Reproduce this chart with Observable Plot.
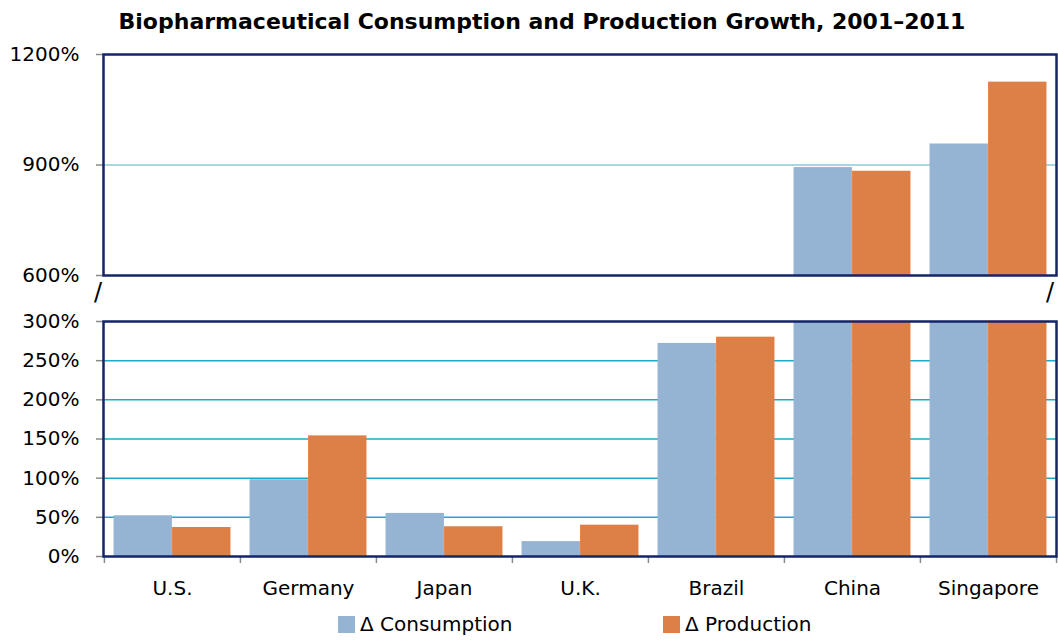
<!DOCTYPE html>
<html>
<head>
<meta charset="utf-8">
<script src="https://cdn.jsdelivr.net/npm/d3@7"></script>
<script src="https://cdn.jsdelivr.net/npm/@observablehq/plot@0.6"></script>
<style>
  html, body { margin: 0; padding: 0; background: #fff; }
  body { width: 1058px; height: 640px; position: relative; overflow: hidden; font-family: "DejaVu Sans", sans-serif; }
  #title { position: absolute; left: 0; top: 9px; width: 1058px; padding-left: 26px; box-sizing: border-box; text-align: center; font-weight: bold; font-size: 22px; color: #000; white-space: nowrap; }
  #top { position: absolute; left: 0; top: 40px; }
  #bottom { position: absolute; left: 0; top: 276px; }
  .slash { position: absolute; font-size: 24px; color: #000; font-family: "DejaVu Sans", sans-serif; }
  #legend { position: absolute; top: 612px; left: 0; width: 1058px; height: 28px; font-size: 20px; color: #000; }
  .item { position: absolute; display: flex; align-items: center; }
  .sw { width: 17px; height: 17px; margin-right: 5px; display: inline-block; }
  svg { overflow: visible; }
  svg text { font-family: "DejaVu Sans", sans-serif; }
</style>
</head>
<body>
<div id="title">Biopharmaceutical Consumption and Production Growth, 2001–2011</div>
<div id="top"></div>
<div id="bottom"></div>
<div class="slash" style="left:94px; top:278px;">/</div>
<div class="slash" style="left:1046px; top:278px;">/</div>
<div id="legend"></div>
<script>
const countries = ["U.S.", "Germany", "Japan", "U.K.", "Brazil", "China", "Singapore"];
const series = ["Δ Consumption", "Δ Production"];
const consumption = [52, 98, 55, 19, 272, 893, 957];
const production = [37, 154, 38, 40, 280, 883, 1125];
const colors = ["#95b3d2", "#dd8047"];
const topTicks = [600, 900, 1200];
const bottomTicks = [0, 50, 100, 150, 200, 250, 300];

const data = countries.flatMap((c, i) => [
  {country: c, series: series[0], value: consumption[i]},
  {country: c, series: series[1], value: production[i]}
]);

const W = 1058, ML = 103, MR = 2;
const step = (W - ML - MR) / countries.length;
const outer = step * 0.07;           // gap at each side of a group
const barW = (step - 2 * outer) / 2; // bar width

function bars() {
  return [
    Plot.barY(data.filter(d => d.series === series[0]), {
      x: "country", y: "value", fill: colors[0],
      insetLeft: outer, insetRight: outer + barW
    }),
    Plot.barY(data.filter(d => d.series === series[1]), {
      x: "country", y: "value", fill: colors[1],
      insetLeft: outer + barW, insetRight: outer
    })
  ];
}

const fmt = d => d + "%";
const axisStyle = {tickFormat: fmt, tickSize: 7, tickPadding: 17, stroke: "#8a8a8a", strokeWidth: 1.5, fill: "#000", label: null};

const topPlot = Plot.plot({
  width: W, height: 250,
  marginLeft: ML, marginRight: MR, marginTop: 14, marginBottom: 15,
  style: {fontSize: "20px", color: "#000", background: "transparent", fontFamily: "DejaVu Sans"},
  x: {domain: countries, padding: 0, axis: null, label: null},
  y: {domain: [600, 1200], clamp: true, axis: null, label: null},
  marks: [
    Plot.gridY([900], {stroke: "#8ec8da", strokeOpacity: 1, strokeWidth: 1.5}),
    ...bars(),
    Plot.axisY(topTicks, axisStyle),
    Plot.frame({stroke: "#14246a", strokeWidth: 2.5})
  ]
});
document.getElementById("top").appendChild(topPlot);

const bottomPlot = Plot.plot({
  width: W, height: 324,
  marginLeft: ML, marginRight: MR, marginTop: 45, marginBottom: 44,
  style: {fontSize: "20px", color: "#000", background: "transparent", fontFamily: "DejaVu Sans"},
  x: {domain: countries, padding: 0, axis: null, label: null},
  y: {domain: [0, 300], clamp: true, axis: null, label: null},
  marks: [
    Plot.gridY([50, 100, 150, 200, 250], {stroke: "#1ea9cc", strokeOpacity: 1, strokeWidth: 1.5}),
    ...bars(),
    Plot.axisY(bottomTicks, axisStyle),
    Plot.axisX(countries, {tickSize: 0, tickPadding: 24, fill: "#000", label: null}),
    Plot.axisX(countries, {tickSize: 7, text: null, dx: -step / 2, stroke: "#8a8a8a", strokeWidth: 1.5, label: null}),
    Plot.axisX([countries[countries.length - 1]], {tickSize: 7, text: null, dx: step / 2, stroke: "#8a8a8a", strokeWidth: 1.5, label: null}),
    Plot.frame({stroke: "#14246a", strokeWidth: 2.5})
  ]
});
document.getElementById("bottom").appendChild(bottomPlot);

const legend = document.getElementById("legend");
const lefts = [338, 663];
series.forEach((s, i) => {
  const item = document.createElement("div");
  item.className = "item";
  item.style.left = lefts[i] + "px";
  item.innerHTML = `<span class="sw" style="background:${colors[i]}"></span><span>${s}</span>`;
  legend.appendChild(item);
});
</script>
</body>
</html>
